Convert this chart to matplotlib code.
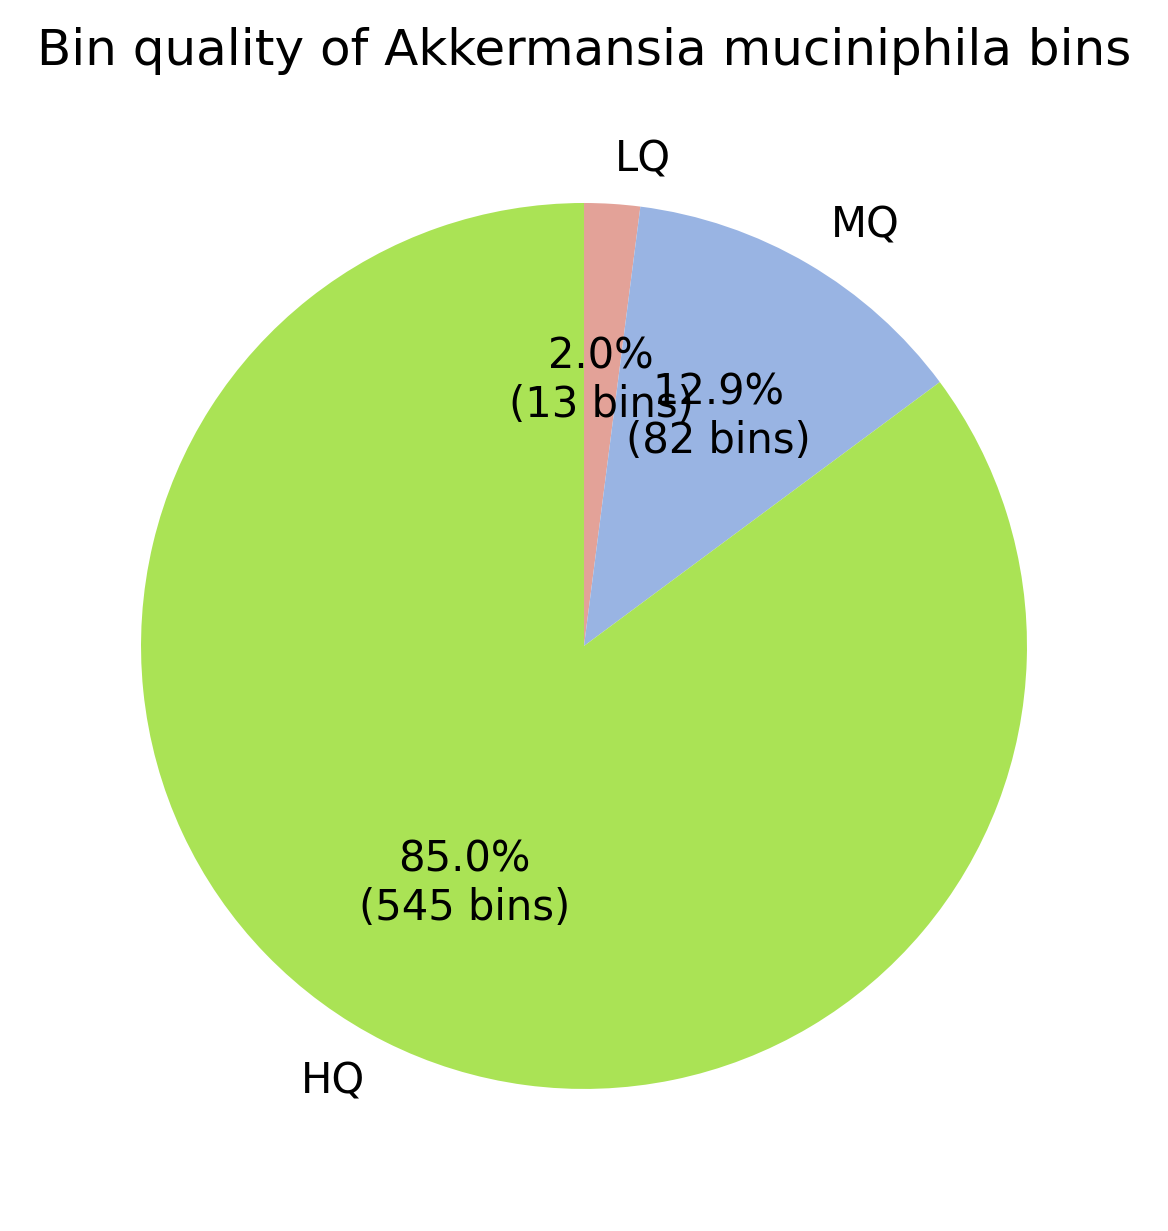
import matplotlib.pyplot as plt

labels = ['LQ', 'MQ', 'HQ']
counts = [13, 82, 545]
pct_labels = [2.0, 12.9, 85.0]
colors = ['#e3a298', '#99b4e3', '#aae355']

auto = ['%.1f%%\n(%d bins)' % (p, n) for p, n in zip(pct_labels, counts)]

fig = plt.figure(figsize=(5.84, 6.155), dpi=200)
ax = fig.add_axes([0.1207, 0.1154, 0.7586, 0.7197])
wedges, texts = ax.pie(counts, labels=labels, colors=colors, startangle=90,
                       counterclock=False, textprops={'fontsize': 15})
# percentage labels at autopct position (0.6 radius)
import numpy as np
for w, t in zip(wedges, auto):
    ang = np.deg2rad((w.theta1 + w.theta2) / 2)
    ax.text(0.6 * np.cos(ang), 0.6 * np.sin(ang), t, ha='center', va='center',
            fontsize=15)
ax.set_xlim(-1, 1)
ax.set_ylim(-1, 1)
ax.set_aspect('equal')
fig.suptitle('Bin quality of Akkermansia muciniphila bins', fontsize=18, y=0.978)
plt.savefig('out.png')
